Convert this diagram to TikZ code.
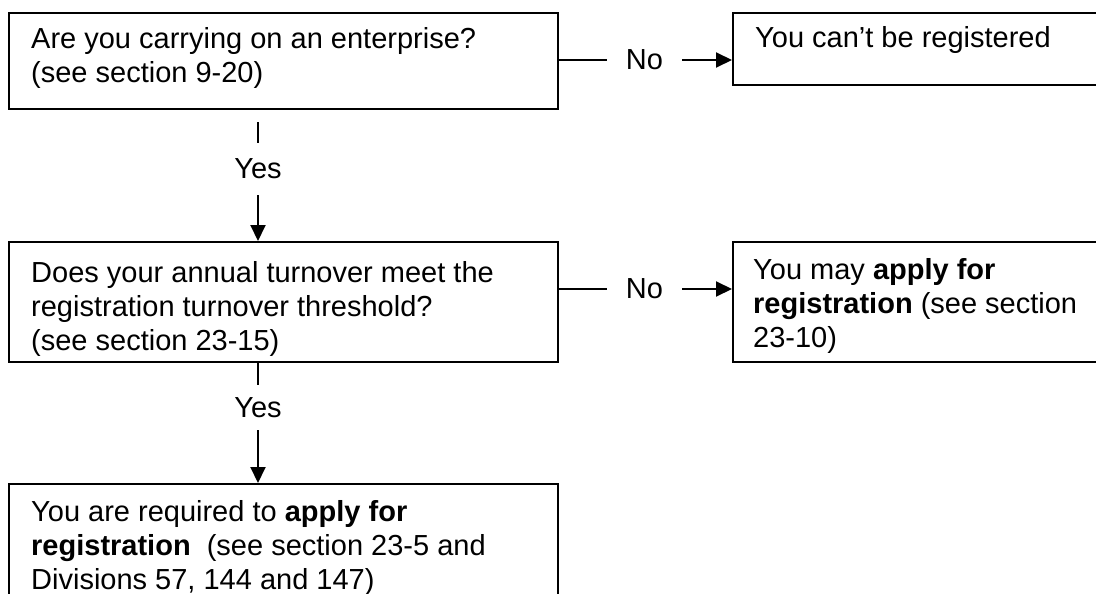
\documentclass[tikz,border=0pt]{standalone}
\usepackage{fontspec}
\setmainfont{Liberation Sans}
\usetikzlibrary{arrows.meta}
\begin{document}
\begin{tikzpicture}[x=1pt,y=-1pt,
  font=\fontsize{29}{34}\selectfont,
  box/.style={draw,line width=2pt,inner sep=0pt,anchor=north west},
  txt/.style={anchor=base west,align=left,inner sep=0pt},
  lbl/.style={inner sep=0pt,minimum width=75pt},
  conn/.style={line width=2pt},
  arr/.style={conn,-{Triangle[length=16pt,width=15pt]}}]
\useasboundingbox (0,0) rectangle (1096,594);
\clip (0,0) rectangle (1096,594);
% boxes
\node[box,minimum width=549pt,minimum height=96pt] (b1) at (8,12) {};
\node[box,minimum width=400pt,minimum height=72pt] (b2) at (732,12) {};
\node[box,minimum width=549pt,minimum height=120pt] (b3) at (8,241) {};
\node[box,minimum width=400pt,minimum height=120pt] (b4) at (732,241) {};
\node[box,minimum width=549pt,minimum height=200pt] (b5) at (8,483) {};
% texts (base anchor = baseline of last line)
\node[txt] (t1) at (31,82) {Are you carrying on an enterprise?\\(see section 9-20)};
\node[txt] (t2) at (755,48) {You can’t be registered};
\node[txt] (t3) at (31,350) {Does your annual turnover meet the\\registration turnover threshold?\\(see section 23-15)};
\node[txt] (t4) at (753,347) {You may \textbf{apply for}\\\textbf{registration} (see section\\23-10)};
\node[txt] (t5) at (31,589) {You are required to \textbf{apply for}\\\textbf{registration}\ \ (see section 23-5 and\\Divisions 57, 144 and 147)};
% labels
\node[lbl] (n1) at (644.5,60) {No};
\node[lbl] (n2) at (644.5,289) {No};
\node[inner sep=0pt,minimum height=52pt] (y1) at (258,169) {Yes};
\node[inner sep=0pt,minimum height=45pt] (y2) at (258,407.5) {Yes};
\coordinate (k1) at (258,122);
% connectors
\draw[conn] (b1.east |- n1.west) -- (n1.west);
\draw[arr] (n1.east) -- (b2.west |- n1.east);
\draw[conn] (b3.east |- n2.west) -- (n2.west);
\draw[arr] (n2.east) -- (b4.west |- n2.east);
\draw[conn] (k1) -- (y1.north);
\draw[arr] (y1.south) -- (b3.north -| y1.south);
\draw[conn] (b3.south -| y2.north) -- (y2.north);
\draw[arr] (y2.south) -- (b5.north -| y2.south);
\end{tikzpicture}
\end{document}
